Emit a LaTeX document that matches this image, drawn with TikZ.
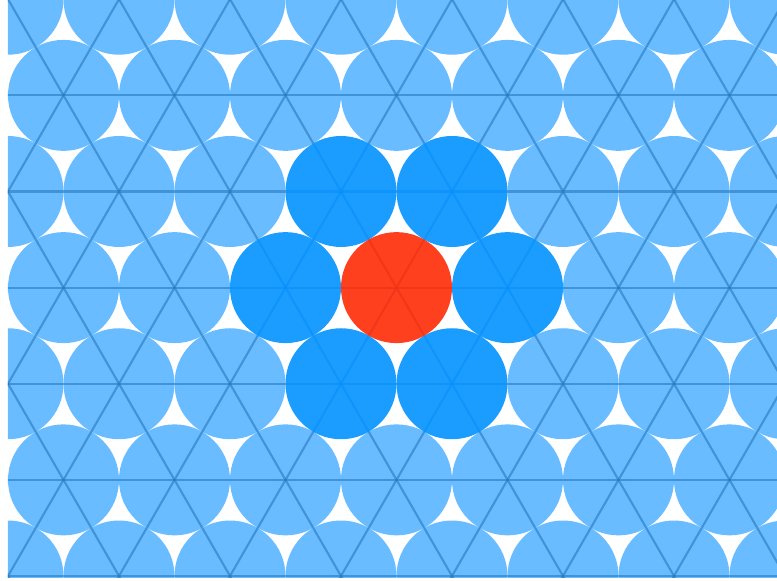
\documentclass[tikz,border=0pt]{standalone}
\usepackage{tikz}

\definecolor{lightdisc}{RGB}{104,188,255}
\definecolor{darkdisc}{RGB}{2,146,255}
\definecolor{centredisc}{RGB}{255,43,5}
\definecolor{gridline}{RGB}{40,120,190}

\tikzset{
    gridstroke/.style={gridline, opacity=0.6, line width=0.6pt},
    neighbour/.style={fill=darkdisc, fill opacity=0.9},
    centre/.style={fill=centredisc, fill opacity=0.9}
}

\begin{document}
\begin{tikzpicture}[x=1.11cm,y=1.11cm]

    \useasboundingbox (-0.072,-0.045) rectangle (6.928,5.189);
    \clip (0,-0.009) rectangle (7.2,5.4);

    % light blue discs on the hexagonal lattice (the seven middle ones left out)
    \foreach \j in {0,...,6}
        \foreach \i in {-1,...,8} {
            \pgfmathtruncatemacro\hole{(abs(\j-3)<=1)*(\i>=3-(\j==3))*(\i<=4)}
            \ifnum\hole=0
                \fill[lightdisc] ({\i+0.5*mod(\j,2)},{\j*0.866}) circle (0.5);
            \fi
        }

    % horizontal grid lines
    \foreach \j in {0,...,6}
        \draw[gridstroke] (-0.5,\j*0.866) -- (7.5,\j*0.866);

    % slanted grid lines
    \foreach \i in {-4,...,8}
        \draw[gridstroke] (\i-0.5,-0.866) -- ++(60:8);
    \foreach \i in {-1,...,11}
        \draw[gridstroke] (\i+0.5,-0.866) -- ++(120:8);

    % six neighbours
    \foreach \p in {(3,1.732),(4,1.732),(2.5,2.598),(4.5,2.598),(3,3.464),(4,3.464)}
        \fill[neighbour] \p circle (0.5);

    % centre disc
    \fill[centre] (3.5,2.598) circle (0.5);

\end{tikzpicture}
\end{document}
